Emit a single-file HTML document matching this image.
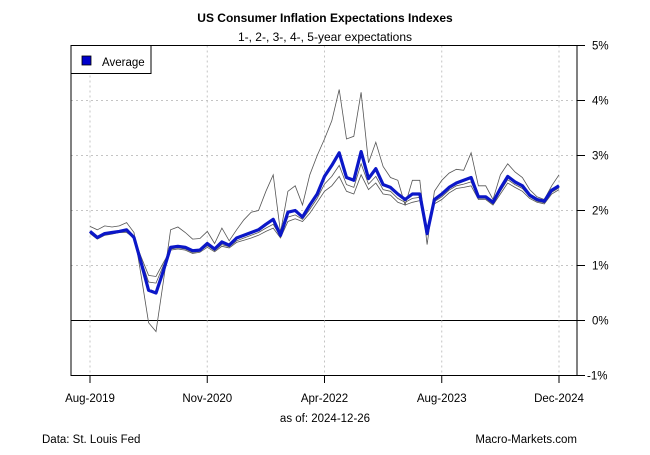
<!DOCTYPE html>
<html><head><meta charset="utf-8"><style>
html,body{margin:0;padding:0;background:#fff;}
svg text{font-family:"Liberation Sans",Arial,sans-serif;}
</style></head><body>
<svg id="chart" width="650" height="450" viewBox="0 0 650 450" xmlns="http://www.w3.org/2000/svg">
<rect width="650" height="450" fill="#fff"/>
<text x="325" y="22" text-anchor="middle" font-size="12" font-weight="bold">US Consumer Inflation Expectations Indexes</text>
<text x="325" y="41" text-anchor="middle" font-size="12">1-, 2-, 3-, 4-, 5-year expectations</text>
<g id="grid"></g>
<g id="lines"></g>
<rect x="71" y="45.5" width="506" height="330" fill="none" stroke="#000" stroke-width="1"/>
<g id="axes"></g>
<g>
<rect x="71" y="45.5" width="80" height="28" fill="#fff" stroke="#000"/>
<rect x="82" y="56" width="9" height="9" fill="#0000cc" stroke="#000" stroke-width="0.8"/>
<text x="102" y="66" font-size="11.5">Average</text>
</g>
<text x="325" y="422" text-anchor="middle" font-size="11.5">as of:  2024-12-26</text>
<text x="42" y="443" font-size="11.5">Data: St. Louis Fed</text>
<text x="577" y="443" text-anchor="end" font-size="11.5">Macro-Markets.com</text>
</svg>
<script>
const avgValues=[1.62,1.51,1.58,1.60,1.62,1.65,1.51,1.04,0.55,0.50,0.90,1.33,1.35,1.33,1.27,1.28,1.40,1.30,1.43,1.37,1.50,1.55,1.60,1.65,1.75,1.84,1.55,1.97,2.00,1.88,2.10,2.30,2.62,2.82,3.05,2.60,2.55,3.07,2.58,2.76,2.47,2.42,2.30,2.20,2.30,2.30,1.58,2.20,2.30,2.42,2.50,2.55,2.60,2.25,2.25,2.15,2.40,2.62,2.52,2.45,2.28,2.20,2.17,2.37,2.45];
const oneYearValues=[1.71,1.65,1.72,1.70,1.72,1.78,1.60,0.80,-0.04,-0.20,0.70,1.65,1.70,1.60,1.48,1.49,1.62,1.40,1.68,1.45,1.65,1.83,1.97,2.00,2.35,2.65,1.60,2.35,2.45,2.10,2.65,3.00,3.30,3.63,4.20,3.30,3.35,4.15,2.87,3.24,2.80,2.60,2.55,2.10,2.55,2.55,1.38,2.35,2.55,2.68,2.75,2.73,3.05,2.45,2.45,2.20,2.65,2.85,2.70,2.60,2.38,2.25,2.20,2.45,2.65];
const threeYearValues=[1.60,1.49,1.56,1.58,1.61,1.62,1.50,1.10,0.70,0.68,1.00,1.30,1.32,1.30,1.24,1.26,1.36,1.27,1.38,1.34,1.45,1.50,1.55,1.60,1.68,1.75,1.52,1.88,1.92,1.84,2.02,2.22,2.48,2.62,2.82,2.47,2.42,2.85,2.48,2.62,2.38,2.35,2.22,2.15,2.22,2.24,1.57,2.16,2.25,2.37,2.45,2.48,2.52,2.22,2.22,2.12,2.35,2.56,2.47,2.40,2.25,2.17,2.14,2.33,2.41];
const fiveYearValues=[1.58,1.48,1.55,1.57,1.60,1.60,1.50,1.15,0.82,0.80,1.05,1.28,1.30,1.28,1.22,1.24,1.33,1.25,1.35,1.32,1.42,1.46,1.50,1.55,1.62,1.68,1.50,1.80,1.85,1.80,1.95,2.15,2.35,2.45,2.62,2.35,2.30,2.65,2.38,2.50,2.30,2.28,2.15,2.10,2.15,2.18,1.55,2.12,2.20,2.32,2.40,2.42,2.45,2.20,2.20,2.10,2.30,2.50,2.42,2.35,2.22,2.15,2.12,2.30,2.38];
const xTickIndex=[0,16,32,48,64];
const xTickLabels=["Aug-2019","Nov-2020","Apr-2022","Aug-2023","Dec-2024"];
const yTicks=[-1,0,1,2,3,4,5];

const NS="http://www.w3.org/2000/svg";
const X0=90,X1=559,N=64,Y0=375.5,PX=55;
function xScale(i){return X0+(X1-X0)*i/N;}
function yScale(v){return Y0-(v+1)*PX;}
function mk(tag,attrs,parent){const e=document.createElementNS(NS,tag);for(const k in attrs)e.setAttribute(k,attrs[k]);parent.appendChild(e);return e;}
const grid=document.getElementById('grid'),axes=document.getElementById('axes'),lines=document.getElementById('lines');
yTicks.forEach(v=>{
  const y=yScale(v);
  if(v>-1&&v<5){
    const l=mk('line',{x1:71,x2:577,y1:y,y2:y,stroke:v===0?'#000':'#c4c4c4','stroke-width':1,'stroke-dasharray':v===0?'':'2,3'},grid);
    
    
  }
  const t=mk('line',{x1:577,x2:585,y1:y,y2:y,stroke:'#000'},axes);
  
  
  const tx=mk('text',{x:v<0?587:592,y:y+4,'font-size':11.5},axes);
  tx.textContent=v+'%';
  
  
});
xTickIndex.forEach((ix,k)=>{
  const x=xScale(ix);
  const g=mk('line',{x1:x,x2:x,y1:45.5,y2:375.5,stroke:'#c4c4c4','stroke-dasharray':'2,3'},grid);
  
  
  const t=mk('line',{x1:x,x2:x,y1:375.5,y2:383,stroke:'#000'},axes);
  
  
  const tx=mk('text',{x:x,y:402,'font-size':11.5,'text-anchor':'middle'},axes);
  tx.textContent=xTickLabels[k];
  
  
});
function pts(a){return a.map((v,i)=>xScale(i).toFixed(1)+','+yScale(v).toFixed(1)).join(' ');}
[[oneYearValues,'line-1yr'],[threeYearValues,'line-3yr'],[fiveYearValues,'line-5yr']].forEach(([a,n])=>{
  const p=mk('polyline',{points:pts(a),fill:'none',stroke:'#555','stroke-width':0.8},lines);
  
  
});
const av=mk('polyline',{points:pts(avgValues),fill:'none',stroke:'#0b17c8','stroke-width':3.2,'stroke-linejoin':'round'},lines);


</script>
</body></html>
